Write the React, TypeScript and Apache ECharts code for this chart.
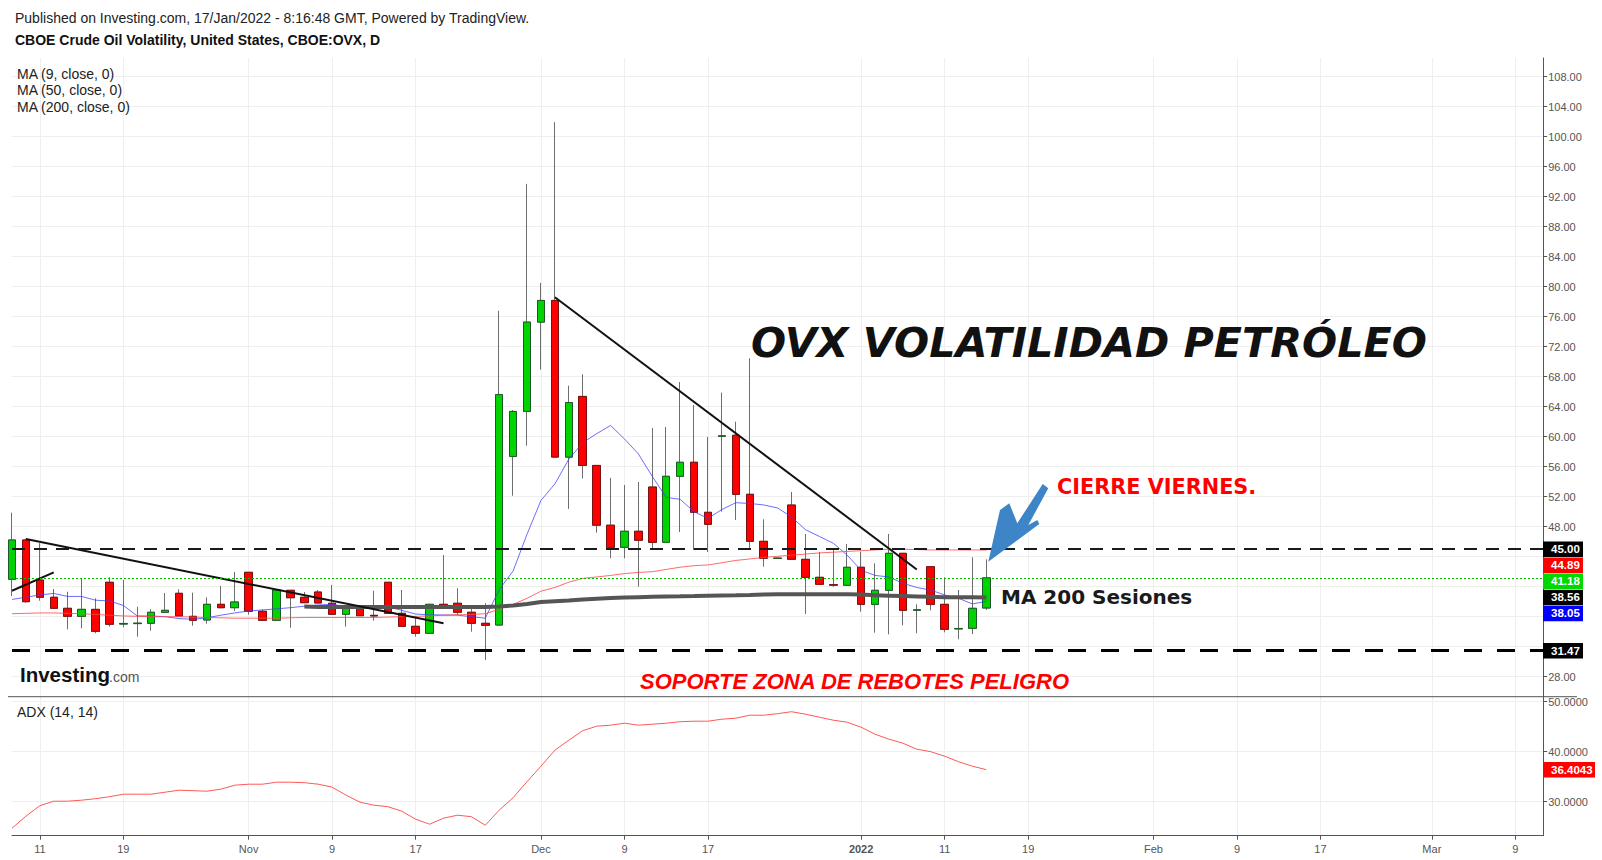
import React, { useEffect, useRef } from "react";
import * as echarts from "echarts";

// ---------- data ----------
const dates: string[] = [
  "2021-10-07","2021-10-08","2021-10-11","2021-10-12","2021-10-13","2021-10-14","2021-10-15","2021-10-18","2021-10-19","2021-10-20","2021-10-21","2021-10-22","2021-10-25","2021-10-26","2021-10-27","2021-10-28","2021-10-29",
  "2021-11-01","2021-11-02","2021-11-03","2021-11-04","2021-11-05","2021-11-08","2021-11-09","2021-11-10","2021-11-11","2021-11-12","2021-11-15","2021-11-16","2021-11-17","2021-11-18","2021-11-19","2021-11-22","2021-11-23","2021-11-24","2021-11-26","2021-11-29","2021-11-30",
  "2021-12-01","2021-12-02","2021-12-03","2021-12-06","2021-12-07","2021-12-08","2021-12-09","2021-12-10","2021-12-13","2021-12-14","2021-12-15","2021-12-16","2021-12-17","2021-12-20","2021-12-21","2021-12-22","2021-12-23","2021-12-24","2021-12-27","2021-12-28","2021-12-29","2021-12-30","2021-12-31",
  "2022-01-03","2022-01-04","2022-01-05","2022-01-06","2022-01-07","2022-01-10","2022-01-11","2022-01-12","2022-01-13","2022-01-14","2022-01-17","2022-01-18","2022-01-19","2022-01-20","2022-01-21","2022-01-24","2022-01-25","2022-01-26","2022-01-27","2022-01-28","2022-01-31",
  "2022-02-01","2022-02-02","2022-02-03","2022-02-04","2022-02-07","2022-02-08","2022-02-09","2022-02-10","2022-02-11","2022-02-14","2022-02-15","2022-02-16","2022-02-17","2022-02-18","2022-02-21","2022-02-22","2022-02-23","2022-02-24","2022-02-25","2022-02-28",
  "2022-03-01","2022-03-02","2022-03-03","2022-03-04","2022-03-07","2022-03-08","2022-03-09","2022-03-10","2022-03-11"
];

const tickLabels: Record<string, string> = {
  "2021-10-11": "11", "2021-10-19": "19", "2021-11-01": "Nov", "2021-11-09": "9", "2021-11-17": "17",
  "2021-12-01": "Dec", "2021-12-09": "9", "2021-12-17": "17", "2022-01-03": "2022", "2022-01-11": "11",
  "2022-01-19": "19", "2022-02-01": "Feb", "2022-02-09": "9", "2022-02-17": "17", "2022-03-01": "Mar", "2022-03-09": "9"
};

const opens = [40.99,46.23,40.89,38.59,37.12,36.05,36.98,40.59,35.02,35.08,35.12,36.59,39.12,36.05,35.56,37.65,37.2,
  41.92,36.72,35.52,39.52,38.59,39.29,37.79,36.32,37.2,36.18,40.59,36.45,34.72,33.79,37.65,37.79,36.59,35.12,34.89,57.37,63.37,
  75.28,78.17,57.28,65.37,56.17,48.2,45.25,47.39,53.29,45.92,54.72,56.59,49.92,60.05,60.19,52.32,46.05,43.76,50.89,43.65,41.25,40.27,40.19,
  42.59,37.65,39.52,44.45,36.85,42.67,37.65,34.37,34.45,37.16];
const closes = [46.23,38.0,38.59,37.12,36.05,36.98,34.05,34.99,35.1,35.14,36.59,36.85,36.09,35.52,37.65,37.2,37.96,
  36.72,35.52,39.56,38.53,37.87,37.83,36.32,37.12,36.13,36.1,36.45,34.72,33.79,37.65,37.12,36.59,35.12,34.85,65.61,63.37,75.28,
  78.17,57.28,64.56,56.17,48.2,45.25,47.39,46.19,45.92,54.72,56.59,49.92,48.32,60.12,52.32,46.05,43.79,43.82,43.65,41.25,40.32,40.2,42.59,
  37.65,39.52,44.45,36.85,36.92,37.65,34.32,34.43,37.12,41.18];
const lows = [38.76,37.87,38.13,37.05,34.32,34.45,33.79,34.67,34.59,33.33,34.13,36.5,36.05,34.8,35.07,37.1,36.76,
  36.27,35.5,35.5,34.54,37.8,37.8,36.3,34.67,36.1,35.47,36.4,34.7,33.33,33.75,37.1,36.23,34.0,30.23,34.85,52.13,58.8,
  68.95,57.2,50.37,54.41,47.2,43.79,43.79,40.0,44.89,45.9,47.29,44.89,44.63,50.0,48.89,45.12,42.67,43.7,43.6,36.36,40.3,40.0,40.15,
  36.67,33.87,33.65,34.85,33.79,36.85,33.92,32.99,33.69,36.9];
const highs = [49.87,46.4,45.8,39.69,39.33,41.03,38.45,41.25,40.89,37.33,37.03,39.15,39.65,39.2,38.59,40.09,41.96,
  41.95,36.98,39.6,39.55,39.29,39.56,40.23,37.15,37.4,39.47,40.62,39.56,36.0,37.7,44.23,39.79,37.2,37.79,76.8,63.56,93.71,
  80.51,101.95,66.8,68.32,56.2,54.5,53.56,53.96,61.16,61.29,67.29,64.23,59.96,65.87,62.0,70.45,48.99,43.9,52.63,47.03,44.63,45.07,45.69,
  44.67,43.12,47.03,44.5,37.65,42.7,41.25,39.56,43.92,43.65];

const ma9 = [38.3,38.6,38.9,39.1,38.7,38.7,38.2,38.1,37.5,36.1,
  36.1,36.0,35.75,35.65,35.85,36.2,36.5,36.76,36.9,37.05,
  37.2,37.4,37.56,37.65,37.35,37.25,37.3,37.33,36.85,36.35,
  36.25,36.23,36.2,36.0,35.8,39.6,42.1,47.0,51.5,53.7,
  57.0,59.2,60.4,61.5,59.7,57.7,54.7,51.9,51.65,50.0,
  49.1,50.3,51.2,51.1,50.9,50.5,49.3,47.6,46.7,45.8,
  44.2,42.2,41.5,41.3,40.45,39.9,39.55,38.9,38.45,37.7,38.05];
const ma50 = [36.4,36.45,36.5,36.5,36.45,36.4,36.3,36.2,36.1,36.05,
  36.0,36.0,36.0,35.95,35.9,35.85,35.8,35.8,35.8,35.8,
  35.85,35.9,35.9,35.9,35.9,35.9,35.9,35.95,36.0,36.05,
  36.1,36.2,36.25,36.3,36.4,37.0,37.65,38.45,39.4,39.9,
  40.6,41.1,41.3,41.5,41.75,41.9,42.0,42.3,42.6,42.8,
  42.9,43.2,43.5,43.7,43.9,44.05,44.2,44.35,44.5,44.6,
  44.7,44.8,44.9,45.0,45.0,44.95,44.9,44.9,44.9,44.9,44.89];
const ma200 = [null,null,null,null,null,null,null,null,null,null,null,null,null,null,null,null,null,null,null,null,null,
  37.35,37.3,37.3,37.3,37.3,37.3,37.3,37.3,37.3,37.3,37.3,37.3,37.3,37.3,
  37.35,37.5,37.7,37.95,38.05,38.15,
  38.3,38.4,38.5,38.55,38.6,38.65,38.7,38.72,38.75,38.8,
  38.83,38.86,38.9,38.95,39.0,39.0,39.0,39.0,39.0,39.0,
  38.95,38.85,38.8,38.75,38.7,38.65,38.6,38.6,38.58,38.56];
const adx = [24.7,27.1,29.2,30.1,30.1,30.3,30.6,31.0,31.5,31.5,
  31.5,31.9,32.3,32.2,32.1,32.5,33.3,33.5,33.5,33.9,
  33.9,33.8,33.5,32.9,31.3,29.9,29.3,29.0,28.1,26.5,
  25.5,26.7,27.3,27.0,25.3,28.3,30.8,34.0,37.1,40.3,
  42.3,44.2,45.1,45.3,45.7,45.3,45.5,45.7,46.0,46.1,
  46.1,46.5,46.7,47.3,47.3,47.6,48.0,47.5,46.9,46.3,
  45.9,44.9,43.5,42.5,41.7,40.5,40.0,39.1,38.0,37.1,36.4043];

const trendA = [["2021-10-08", 46.36], ["2021-11-19", 35.12]];
const trendB = [["2021-10-07", 39.46], ["2021-10-12", 41.9]];
const trendC = [["2021-12-02", 78.6], ["2022-01-07", 42.3]];

const resistance = 45.0;
const support = 31.47;
const lastClose = 41.18;

const priceTicks = [28,32,36,40,44,48,52,56,60,64,68,72,76,80,84,88,92,96,100,104,108];
const priceLabels = [28,48,52,56,60,64,68,72,76,80,84,88,92,96,100,104,108];
const adxTicks = [30, 40, 50];

const priceTags = [
  { v: 45.0, text: "45.00", bg: "#000000" },
  { v: 44.89, text: "44.89", bg: "#ff0000" },
  { v: 41.18, text: "41.18", bg: "#00d900" },
  { v: 38.56, text: "38.56", bg: "#000000" },
  { v: 38.05, text: "38.05", bg: "#0000ff" },
  { v: 31.47, text: "31.47", bg: "#000000" },
];
const adxTag = { v: 36.4043, text: "36.4043", bg: "#ff0000" };

// ---------- chart ----------
const FONT = "Liberation Sans, Arial, sans-serif";
const labelIdx = new Set(dates.map((d, i) => (tickLabels[d] ? i : -1)).filter((i) => i >= 0));

export default function App() {
  const ref = useRef<HTMLDivElement>(null);

  useEffect(() => {
    document.body.style.margin = "0";
    if (!ref.current) return;
    const chart = echarts.init(ref.current, null, { renderer: "svg" });

    const ohlc = opens.map((o, i) => [o, closes[i], lows[i], highs[i]]);
    const bodies = opens.map((o, i) => [o, closes[i], Math.min(o, closes[i]), Math.max(o, closes[i])]);

    const gridLine = { color: "#efefef", width: 1 };
    const intervalFn = (i: number) => labelIdx.has(i);

    const option: any = {
      animation: false,
      textStyle: { fontFamily: FONT },
      grid: [
        { left: 12, width: 1531.2, top: 58, height: 638.7, containLabel: false },
        { left: 12, width: 1531.2, top: 696.7, height: 139, containLabel: false },
      ],
      xAxis: [
        {
          type: "category", gridIndex: 0, data: dates, boundaryGap: false,
          axisLine: { show: false }, axisTick: { show: false }, axisLabel: { show: false },
          splitLine: { show: true, interval: intervalFn, lineStyle: gridLine },
        },
        {
          type: "category", gridIndex: 1, data: dates, boundaryGap: false,
          axisLine: { show: true, lineStyle: { color: "#555", width: 1 } },
          axisTick: { show: true, interval: intervalFn, length: 4, lineStyle: { color: "#555" } },
          axisLabel: {
            show: true, interval: intervalFn, color: "#555", fontSize: 11, margin: 8, fontFamily: FONT,
            formatter: (v: string) => (tickLabels[v] === "2022" ? "{b|2022}" : tickLabels[v] || ""),
            rich: { b: { fontWeight: "bold", fontSize: 11, color: "#555", fontFamily: FONT } },
          },
          splitLine: { show: true, interval: intervalFn, lineStyle: gridLine },
        },
      ],
      yAxis: [
        {
          type: "value", gridIndex: 0, position: "right", min: 25.3333, max: 110.4933, scale: true,
          axisLine: { show: true, lineStyle: { color: "#555" } },
          axisTick: { show: true, length: 4, customValues: priceTicks, lineStyle: { color: "#555" } },
          axisLabel: { show: true, customValues: priceLabels, color: "#555", fontSize: 11, margin: 5, fontFamily: FONT, formatter: (v: number) => v.toFixed(2) },
          splitLine: { show: true, lineStyle: gridLine },
        },
        {
          type: "value", gridIndex: 1, position: "right", min: 23.2, max: 51, scale: true,
          axisLine: { show: true, lineStyle: { color: "#555" } },
          axisTick: { show: true, length: 4, customValues: adxTicks, lineStyle: { color: "#555" } },
          axisLabel: { show: true, customValues: adxTicks, color: "#555", fontSize: 11, margin: 5, fontFamily: FONT, formatter: (v: number) => v.toFixed(4) },
          splitLine: { show: true, lineStyle: gridLine },
        },
      ],
      series: [
        {
          name: "wicks", type: "candlestick", xAxisIndex: 0, yAxisIndex: 0, data: ohlc, barWidth: 8, clip: false,
          itemStyle: { color: "rgba(0,0,0,0)", color0: "rgba(0,0,0,0)", borderColor: "#6e6e6e", borderColor0: "#6e6e6e", borderWidth: 1 },
          markLine: {
            silent: true, symbol: ["none", "none"], label: { show: false },
            data: [
              { yAxis: resistance, lineStyle: { color: "#1a1a1a", width: 2, type: [13, 9] } },
              { yAxis: support, lineStyle: { color: "#000000", width: 3, type: [18, 15] } },
              { yAxis: lastClose, lineStyle: { color: "#00c000", width: 1, type: [2, 2] } },
            ],
          },
        },
        {
          name: "bodies", type: "candlestick", xAxisIndex: 0, yAxisIndex: 0, data: bodies, barWidth: 8, clip: false,
          itemStyle: { color: "#00d400", color0: "#ff0000", borderColor: "#1e5a28", borderColor0: "#7a1010", borderWidth: 1 },
        },
        { name: "MA9", type: "line", xAxisIndex: 0, yAxisIndex: 0, data: ma9, showSymbol: false, lineStyle: { color: "rgba(60,60,255,0.75)", width: 1 } },
        { name: "MA50", type: "line", xAxisIndex: 0, yAxisIndex: 0, data: ma50, showSymbol: false, lineStyle: { color: "rgba(255,70,70,0.8)", width: 1 } },
        { name: "MA200", type: "line", xAxisIndex: 0, yAxisIndex: 0, data: ma200, showSymbol: false, connectNulls: false, lineStyle: { color: "#555555", width: 4 } },
        { name: "trendA", type: "line", xAxisIndex: 0, yAxisIndex: 0, data: trendA, showSymbol: false, lineStyle: { color: "#111", width: 2 } },
        { name: "trendB", type: "line", xAxisIndex: 0, yAxisIndex: 0, data: trendB, showSymbol: false, lineStyle: { color: "#111", width: 2 } },
        { name: "trendC", type: "line", xAxisIndex: 0, yAxisIndex: 0, data: trendC, showSymbol: false, lineStyle: { color: "#111", width: 2 } },
        { name: "ADX", type: "line", xAxisIndex: 1, yAxisIndex: 1, data: adx, showSymbol: false, lineStyle: { color: "rgba(255,70,70,0.9)", width: 1 } },
      ],
    };
    chart.setOption(option);

    // price tags on the right axis, stacked like the original
    const tagEls: any[] = [];
    let prev = -Infinity;
    priceTags.forEach((t) => {
      let y = chart.convertToPixel({ yAxisIndex: 0 }, t.v) as number;
      if (y < prev + 16) y = prev + 16;
      prev = y;
      tagEls.push(
        { type: "rect", z: 100, shape: { x: 1543, y: y - 7.75, width: 40, height: 15.5 }, style: { fill: t.bg } },
        { type: "text", z: 101, x: 1551, y, style: { text: t.text, fill: "#fff", fontSize: 11.5, fontWeight: "bold", fontFamily: FONT, verticalAlign: "middle", align: "left" } }
      );
    });
    const ay = chart.convertToPixel({ yAxisIndex: 1 }, adxTag.v) as number;
    tagEls.push(
      { type: "rect", z: 100, shape: { x: 1543, y: ay - 7.75, width: 52, height: 15.5 }, style: { fill: adxTag.bg } },
      { type: "text", z: 101, x: 1551, y: ay, style: { text: adxTag.text, fill: "#fff", fontSize: 11.5, fontWeight: "bold", fontFamily: FONT, verticalAlign: "middle", align: "left" } }
    );

    const txt = (text: string, x: number, y: number, s: any = {}) => ({
      type: "text", z: 50, x, y,
      style: { text, fill: "#222", fontSize: 14, fontFamily: FONT, verticalAlign: "middle", align: "left", ...s },
    });

    const graphics: any[] = [
      txt("Published on Investing.com, 17/Jan/2022 - 8:16:48 GMT, Powered by TradingView.", 15, 18, { fill: "#222" }),
      txt("CBOE Crude Oil Volatility, United States, CBOE:OVX, D", 15, 40, { fontWeight: "bold", fill: "#111" }),
      txt("MA (9, close, 0)", 17, 73.5),
      txt("MA (50, close, 0)", 17, 90),
      txt("MA (200, close, 0)", 17, 107),
      txt("ADX (14, 14)", 17, 712),
      { type: "line", z: 50, shape: { x1: 8, y1: 696.7, x2: 1577, y2: 696.7 }, style: { stroke: "#555", lineWidth: 1 } },
      txt("OVX VOLATILIDAD PETRÓLEO", 751, 343, { fontSize: 41.3, fontWeight: "bold", fontStyle: "italic", fontFamily: "DejaVu Sans", fill: "#111" }),
      txt("CIERRE VIERNES.", 1057, 487, { fontSize: 20.8, fontWeight: "bold", fontFamily: "DejaVu Sans", fill: "#ff0000" }),
      txt("MA 200 Sesiones", 1001, 597, { fontSize: 20, fontWeight: "bold", fontFamily: "DejaVu Sans", fill: "#1a1a1a" }),
      txt("SOPORTE ZONA DE REBOTES PELIGRO", 854.5, 681, { fontSize: 22, fontWeight: "bold", fontStyle: "italic", fill: "#ff0000", align: "center" }),
      txt("Investing", 20, 674, { fontSize: 20.5, fontWeight: "bold", fill: "#111" }),
      txt(".com", 109, 676.5, { fontSize: 14, fill: "#555" }),
      {
        type: "polygon", z: 60,
        shape: { points: [[1042.7, 484], [1048.3, 488.3], [1028.3, 525], [1037.3, 520], [1039.3, 524], [988.3, 561.7], [1000, 510], [1009.3, 503.3], [1017.3, 523.3]] },
        style: { fill: "#3d85c6" },
      },
      ...tagEls,
    ];
    chart.setOption({ graphic: graphics });

    return () => chart.dispose();
  }, []);

  return <div ref={ref} style={{ width: 1602, height: 860 }} />;
}
